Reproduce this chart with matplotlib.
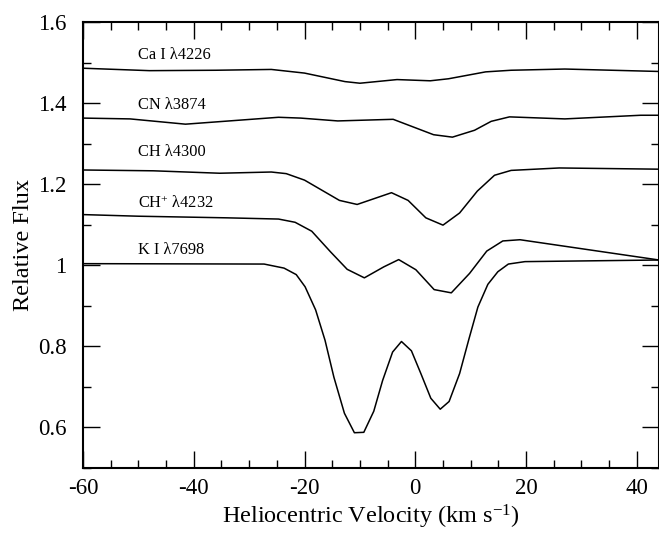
import matplotlib
matplotlib.use("Agg")
import matplotlib.pyplot as plt
from matplotlib.ticker import MultipleLocator

plt.rcParams['font.family'] = ['Liberation Serif', 'DejaVu Serif']
plt.rcParams['mathtext.fontset'] = 'custom'
plt.rcParams['mathtext.rm'] = 'Liberation Serif'
plt.rcParams['mathtext.it'] = 'Liberation Serif:italic'
plt.rcParams['axes.unicode_minus'] = False

# ---- data ----
ca_v = [-60, -48, -36, -26, -20, -12.7, -10, -3.3, 2.7, 6, 12.7, 17.3, 27, 44]
ca_f = [1.486, 1.480, 1.481, 1.483, 1.474, 1.453, 1.449, 1.458, 1.455, 1.460, 1.477, 1.481, 1.484, 1.478]

cn_v = [-60, -51.5, -41.5, -24.7, -20.7, -14, -4, 3.3, 6.7, 10.7, 13.7, 17, 27, 40.7, 44]
cn_f = [1.363, 1.361, 1.348, 1.365, 1.363, 1.356, 1.360, 1.322, 1.316, 1.333, 1.355, 1.366, 1.361, 1.370, 1.370]

ch_v = [-60, -47.3, -35.3, -26, -23.3, -20, -13.7, -10.5, -4.3, -1.3, 1.9, 5, 8, 11.2, 14.3, 17.3, 26, 44]
ch_f = [1.235, 1.233, 1.227, 1.230, 1.226, 1.210, 1.160, 1.150, 1.179, 1.160, 1.117, 1.099, 1.129, 1.183, 1.222, 1.234, 1.240, 1.237]

chp_v = [-60, -50, -34, -24.7, -21.7, -18.7, -15.3, -12.3, -9.2, -5.7, -3, 0.1, 3.4, 6.5, 9.8, 12.9, 15.8, 18.9, 44]
chp_f = [1.125, 1.121, 1.117, 1.114, 1.106, 1.084, 1.033, 0.990, 0.969, 0.996, 1.014, 0.989, 0.940, 0.932, 0.980, 1.035, 1.060, 1.063, 1.013]

k_v = [-60, -27.3, -23.7, -21.5, -19.9, -18, -16.3, -14.7, -12.8, -11, -9.3, -7.5, -5.9, -4.1, -2.5, -0.7,
       1, 2.8, 4.5, 6.1, 8, 9.7, 11.3, 13.1, 14.9, 16.8, 19.8, 44]
k_f = [1.004, 1.003, 0.993, 0.977, 0.947, 0.890, 0.815, 0.724, 0.635, 0.587, 0.588, 0.640, 0.716, 0.786, 0.812, 0.789,
       0.733, 0.672, 0.645, 0.664, 0.733, 0.819, 0.897, 0.953, 0.984, 1.003, 1.009, 1.013]

labels = ["Ca I λ4226", "CN λ3874", "CH λ4300", "CH$^{+}$ λ4232", "K I λ7698"]
label_y = [1.519, 1.395, 1.279, 1.153, 1.037]
label_x = -50

yticks = [0.6, 0.8, 1.0, 1.2, 1.4, 1.6]
ytick_labels = ["0.6", "0.8", "1", "1.2", "1.4", "1.6"]
xticks = [-60, -40, -20, 0, 20, 40]

# ---- figure ----
fig = plt.figure(figsize=(6.59, 5.33), dpi=100)
ax = fig.add_axes([83/659, 1-468/533, 1-83/659, (468-22)/533])

for v, f in [(ca_v, ca_f), (cn_v, cn_f), (ch_v, ch_f), (chp_v, chp_f), (k_v, k_f)]:
    ax.plot(v, f, color='black', lw=1.1)

for t, y in zip(labels, label_y):
    ax.text(label_x, y, t, fontsize=11.8, ha='left', va='center')

ax.set_xlim(-60, 44)
ax.set_ylim(0.5, 1.6)
ax.set_xticks(xticks)
ax.set_yticks(yticks)
ax.set_yticklabels(ytick_labels)
ax.xaxis.set_minor_locator(MultipleLocator(5))
ax.yaxis.set_minor_locator(MultipleLocator(0.1))
ax.tick_params(which='both', direction='in', top=True, right=True, width=1.0, labelsize=16.5)
ax.tick_params(which='major', length=12)
ax.tick_params(which='minor', length=6)
ax.tick_params(axis='y', which='major', pad=12)
ax.tick_params(axis='x', which='major', pad=7)
for s in ax.spines.values():
    s.set_linewidth(1.5)

ax.set_xlabel("Heliocentric Velocity (km s$^{-1}$)", fontsize=17.5, labelpad=3)
ax.set_ylabel("Relative Flux", fontsize=17.5, labelpad=3)

fig.savefig("out.png", dpi=100)
